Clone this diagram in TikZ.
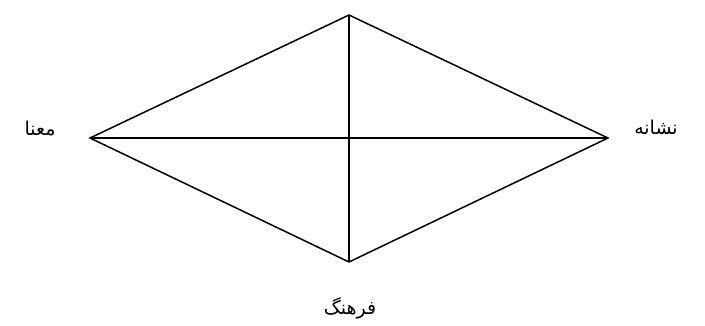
\documentclass[tikz,border=0pt]{standalone}
\usepackage{fontspec}
\newfontfamily\arabicfont[Script=Arabic]{DejaVu Sans}
\TeXXeTstate=1
\begin{document}
\begin{tikzpicture}[x=1pt,y=-1pt,
  edge/.style={draw=black,line width=1.5pt,line join=miter},
  lbl/.style={font=\arabicfont\fontsize{19}{22}\selectfont,inner sep=0pt}]
\useasboundingbox (0,0) rectangle (705,325);
\coordinate (t) at (349,15);
\coordinate (l) at (90,138);
\coordinate (r) at (608,138);
\coordinate (b) at (349,262);
\draw[edge] (t) -- (r) -- (b) -- (l) -- cycle;
\draw[edge] (l) -- (r);
\draw[edge] (t) -- (b);
\node[lbl] (mana) at (40,129) {\beginR معنا\endR};
\node[lbl] (neshane) at (656,127) {\beginR نشانه\endR};
\node[lbl] (farhang) at (350,308) {\beginR فرهنگ\endR};
\end{tikzpicture}
\end{document}
